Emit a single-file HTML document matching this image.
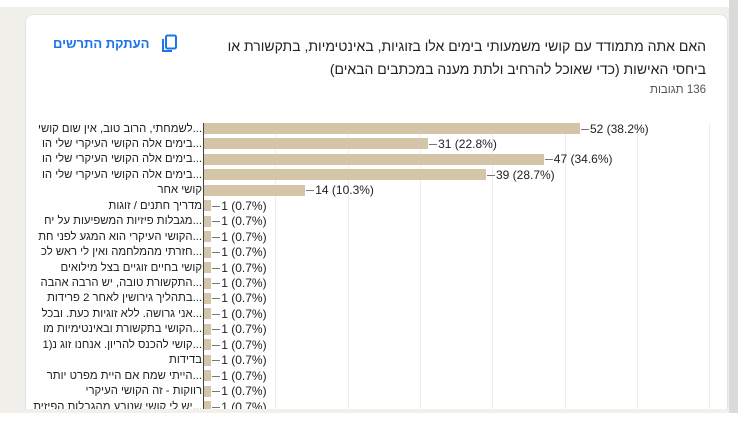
<!DOCTYPE html>
<html><head><meta charset="utf-8"><style>
body{margin:0;width:738px;height:427px;background:#fff;position:relative;overflow:hidden;font-family:"Liberation Sans","Noto Sans CJK SC",sans-serif}
.bg{position:absolute;left:0;top:7px;width:738px;height:406px;background:#f1f0eb}
.sb{position:absolute;left:729px;top:0;width:9px;height:413px;background:#dadada}
.card{position:absolute;left:25px;top:14px;width:701px;height:394px;background:#fff;border-radius:8px 8px 0 0;border:1px solid #e6e3dc;border-bottom:none;overflow:hidden}
.t{position:absolute;right:21px;direction:rtl;font-size:14px;color:#202124;white-space:nowrap}
.lab{position:absolute;right:525px;direction:rtl;font-size:11.3px;color:#222;white-space:nowrap;line-height:14px}
.val{position:absolute;font-size:12px;color:#222;white-space:nowrap;line-height:14px;direction:ltr;unicode-bidi:isolate}
.bar{position:absolute;height:11px;background:#d4c5a8}
.tk{position:absolute;height:1px;width:8px;background:#777}
.g{position:absolute;top:108px;width:1px;height:300px;background:#ececec}
</style></head><body>
<div class="bg"></div><div class="sb"></div>
<div class="card">
<div class="t" style="top:23px">האם אתה מתמודד עם קושי משמעותי בימים אלו בזוגיות, באינטימיות, בתקשורת או</div>
<div class="t" style="top:46px">ביחסי האישות (כדי שאוכל להרחיב ולתת מענה במכתבים הבאים)</div>
<div class="t" style="top:69px;font-size:11.5px;color:#555">136 תגובות</div>
<div style="position:absolute;left:27px;top:21px;font-size:13px;color:#1a73e8;font-weight:bold;direction:rtl">העתקת התרשים</div>
<svg style="position:absolute;left:135px;top:19px" width="18" height="20"><rect x="5" y="1.5" width="10" height="13" rx="1.5" fill="none" stroke="#1a73e8" stroke-width="2"/><path d="M2 5v12h9" fill="none" stroke="#1a73e8" stroke-width="2"/></svg>
<div id="c"></div>
</div>
<script>
const rows=[["...לשמחתי, הרוב טוב, אין שום קושי",52,"38.2"],["...בימים אלה הקושי העיקרי שלי הו",31,"22.8"],["...בימים אלה הקושי העיקרי שלי הו",47,"34.6"],["...בימים אלה הקושי העיקרי שלי הו",39,"28.7"],["קושי אחר",14,"10.3"],["מדריך חתנים / זוגות",1,"0.7"],["...מגבלות פיזיות המשפיעות על יח",1,"0.7"],["...הקושי העיקרי הוא המגע לפני חת",1,"0.7"],["...חזרתי מהמלחמה ואין לי ראש לכ",1,"0.7"],["קושי בחיים זוגיים בצל מילואים",1,"0.7"],["...התקשורת טובה, יש הרבה אהבה",1,"0.7"],["...בתהליך גירושין לאחר 2 פרידות",1,"0.7"],["...אני גרושה. ללא זוגיות כעת. ובכל",1,"0.7"],["...הקושי בתקשורת ובאינטימיות מו",1,"0.7"],["...קושי להכנס להריון. אנחנו זוג נ(1",1,"0.7"],["בדידות",1,"0.7"],["...הייתי שמח אם היית מפרט יותר",1,"0.7"],["רווקות - זה הקושי העיקרי",1,"0.7"],["...יש לי קושי שנובע מהגבלות הפיזית",1,"0.7"]];
let h="";const ax=177,u=7.23;
for(let k=1;k<=7;k++)h+=`<div class="g" style="left:${ax+k*72.3}px"></div>`;
h+=`<div style="position:absolute;left:${ax}px;top:108px;width:1px;height:300px;background:#444"></div>`;
rows.forEach((r,i)=>{const cy=113.5+i*15.45;const w=Math.max(r[1]*u,6);
h+=`<div class="lab" style="top:${cy-7}px">${r[0]}</div>`;
h+=`<div class="bar" style="left:${ax+1}px;top:${cy-5.5}px;width:${w}px"></div>`;
h+=`<div class="tk" style="left:${ax+1+w+1}px;top:${cy}px"></div>`;
h+=`<div class="val" style="left:${ax+w+11}px;top:${cy-7}px">${r[1]} (${r[2]}%)</div>`;});
document.getElementById("c").innerHTML=h;
</script>
</body></html>
